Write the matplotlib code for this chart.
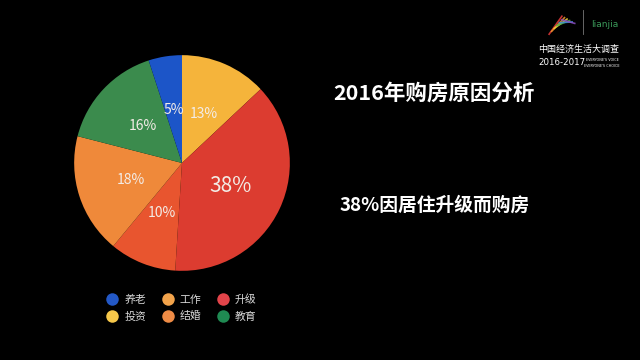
import matplotlib.pyplot as plt
from matplotlib.lines import Line2D

plt.rcParams['font.family'] = ['Noto Sans CJK SC', 'DejaVu Sans']

# slices clockwise from 12 o'clock
slice_names = ["投资", "升级", "工作", "结婚", "教育", "养老"]
slice_values = [13, 38, 10, 18, 16, 5]
slice_colors = ["#F5B43B", "#DC3C30", "#E8552F", "#EF893A", "#3B8B4D", "#1C55C8"]

# legend order (2 rows x 3 columns, row-major)
legend_names = ["养老", "工作", "升级", "投资", "结婚", "教育"]
legend_colors = ["#2358C6", "#F2A34B", "#E2444A", "#F7C84A", "#EE8B45", "#1F8A52"]

title = "2016年购房原因分析"
subtitle = "38%因居住升级而购房"

fig = plt.figure(figsize=(6.4, 3.6), dpi=100, facecolor="black")

# pie
ax = fig.add_axes([0.1125, 0.2417, 0.34375, 0.6111])
ax.set_facecolor("black")
wedges, texts, autotexts = ax.pie(slice_values, colors=slice_colors, startangle=90,
                                  counterclock=False, radius=1.0,
                                  autopct=lambda p: "%d%%" % round(p),
                                  pctdistance=0.5,
                                  wedgeprops=dict(linewidth=0))
for t, v in zip(autotexts, slice_values):
    t.set_color("#F3ECE6")
    t.set_fontsize(15 if v == max(slice_values) else 10)
ax.set_xlim(-1.02, 1.02)
ax.set_ylim(-1.02, 1.02)
ax.set_aspect("equal")
ax.axis("off")

# legend
handles = [Line2D([0], [0], marker="o", linestyle="none", markersize=9,
                  markerfacecolor=c, markeredgewidth=0) for c in legend_colors]
# matplotlib fills columns first, so reorder to read row-major
order = [0, 3, 1, 4, 2, 5]
fig.legend([handles[i] for i in order], [legend_names[i] for i in order],
           ncol=3, loc="center left", bbox_to_anchor=(0.152, 0.145),
           frameon=False, labelcolor="#D8D8D8", fontsize=7.8,
           handletextpad=0.6, columnspacing=1.5, labelspacing=0.6,
           handlelength=1.0)

# right side texts
fig.text(0.52, 0.742, title, color="white", fontsize=15.5, fontweight="bold",
         va="center", ha="left")
fig.text(0.531, 0.43, subtitle, color="white", fontsize=13.5, fontweight="bold",
         va="center", ha="left")

# logo, top right
logo_strokes = ["#E83A3A", "#F39A2B", "#F5D33A", "#4DB04A", "#3A8FD8", "#8A4FC4"]
for i, c in enumerate(logo_strokes):
    fig.add_artist(Line2D([0.858 + i * 0.004, 0.878 + i * 0.004],
                          [0.905 + i * 0.008, 0.955 - i * 0.004],
                          color=c, linewidth=1.2, alpha=0.85))
fig.add_artist(Line2D([0.911, 0.911], [0.905, 0.972], color="#777777", linewidth=0.6))
fig.text(0.945, 0.933, "lianjia", color="#3B9A5A", fontsize=6.5, ha="center", va="center",
         family="DejaVu Sans")
fig.text(0.904, 0.862, "中国经济生活大调查", color="white", fontsize=6.5, ha="center",
         va="center")
fig.text(0.878, 0.827, "2016-2017", color="white", fontsize=6.2, ha="center", va="center",
         family="DejaVu Sans")
fig.text(0.941, 0.834, "EVERYONE'S VOICE", color="white", fontsize=2.4, ha="center",
         va="center", family="DejaVu Sans")
fig.text(0.941, 0.818, "EVERYONE'S CHOICE", color="white", fontsize=2.4, ha="center",
         va="center", family="DejaVu Sans")

fig.savefig("out.png", dpi=100, facecolor="black")
